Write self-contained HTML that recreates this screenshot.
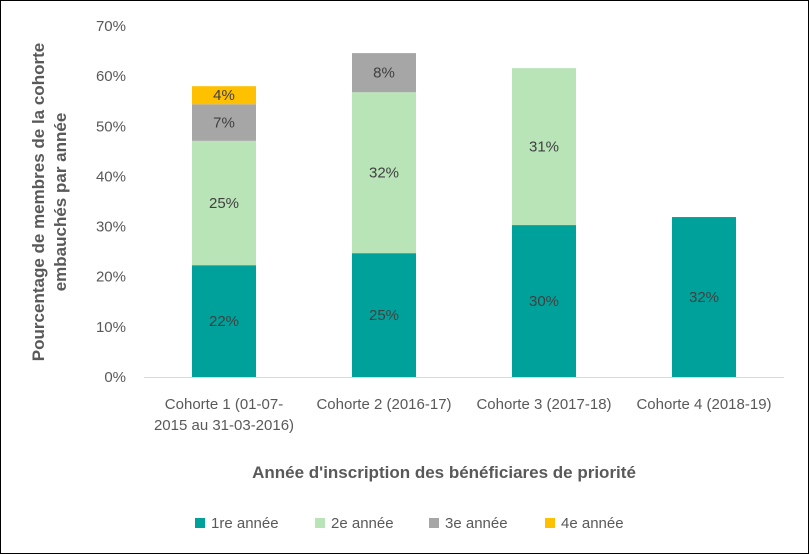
<!DOCTYPE html>
<html><head><meta charset="utf-8"><style>
body{margin:0;background:#fff}
svg{display:block;font-family:"Liberation Sans",sans-serif}
</style></head><body>
<svg id="c" width="809" height="554" viewBox="0 0 809 554">
<rect x="0.5" y="0.5" width="808" height="553" fill="#fff" stroke="#000"/>
<g id="plot"></g>
<text transform="translate(48,202) rotate(-90)" text-anchor="middle" font-size="17" font-weight="bold" fill="#595959"><tspan x="0" dy="-4">Pourcentage de membres de la cohorte</tspan><tspan x="0" dy="22">embauchés par année</tspan></text>
<text x="444" y="478" text-anchor="middle" font-size="17" font-weight="bold" fill="#595959">Année d'inscription des bénéficiares de priorité</text>
</svg>
<script>
const categories=[["Cohorte 1 (01-07-","2015 au 31-03-2016)"],["Cohorte 2 (2016-17)"],["Cohorte 3 (2017-18)"],["Cohorte 4 (2018-19)"]];
const seriesNames=["1re année","2e année","3e année","4e année"];
const s1=[22.3,24.7,30.3,31.9];
const s2=[24.8,32.1,31.3,0];
const s3=[7.3,7.8,0,0];
const s4=[3.6,0,0,0];
const labels1=["22%","25%","30%","32%"];
const labels2=["25%","32%","31%",""];
const labels3=["7%","8%","",""];
const labels4=["4%","","",""];
const yTicks=[0,10,20,30,40,50,60,70];
const colors=["#00A19A","#B8E4B8","#A6A6A6","#FFC000"];
const NS="http://www.w3.org/2000/svg";
const g=document.getElementById("plot");
const x0=144,cw=160,bw=64;
const y=v=>377-v*5.014;
const xc=i=>x0+cw*i+cw/2;
function mk(t,a){const e=document.createElementNS(NS,t);for(const k in a)e.setAttribute(k,a[k]);g.appendChild(e);return e;}
yTicks.forEach(v=>{const t=mk("text",{x:126,y:y(v)+5,"text-anchor":"end","font-size":15,fill:"#595959"});t.textContent=v+"%";

});
const series=[s1,s2,s3,s4],labs=[labels1,labels2,labels3,labels4];
categories.forEach((c,i)=>{let base=0;
series.forEach((s,k)=>{const v=s[i];if(!v)return;
const r=mk("rect",{x:xc(i)-bw/2,y:y(base+v),width:bw,height:y(base)-y(base+v),fill:colors[k]});


const t=mk("text",{x:xc(i),y:(y(base)+y(base+v))/2+5,"text-anchor":"middle","font-size":15,fill:"#404040"});t.textContent=labs[k][i];


base+=v;});
c.forEach((ln,j)=>{const t=mk("text",{x:xc(i),y:409+j*21,"text-anchor":"middle","font-size":15,fill:"#595959"});t.textContent=ln;

});
});
const ax=mk("line",{x1:x0,x2:x0+cw*4,y1:377.5,y2:377.5,stroke:"#D9D9D9"});


const lx=[195,315,429,545];
seriesNames.forEach((n,k)=>{const r=mk("rect",{x:lx[k],y:518,width:10,height:10,fill:colors[k]});


const t=mk("text",{x:lx[k]+16,y:528,"font-size":15,fill:"#595959"});t.textContent=n;

});
</script>
</body></html>
